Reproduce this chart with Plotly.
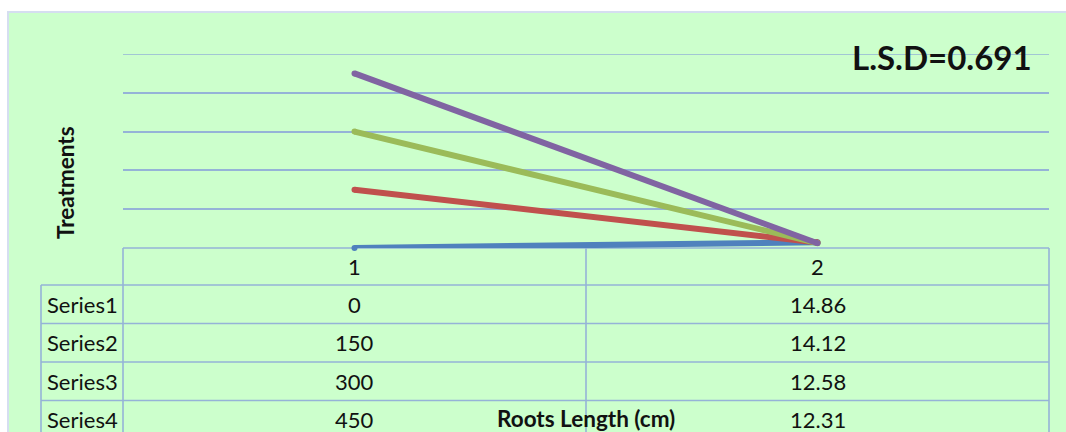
import plotly.graph_objects as go

# Data
categories = [1, 2]
series_names = ["Series1", "Series2", "Series3", "Series4"]
values_at_1 = [0, 150, 300, 450]
values_at_2 = [14.86, 14.12, 12.58, 12.31]
line_colors = ["#4F81BD", "#C0504D", "#9BBB59", "#8064A2"]
lsd_label = "L.S.D=0.691"
y_title = "Treatments"
x_title = "Roots Length (cm)"
y_max = 500

W, H = 1066, 432
L, R, T, B = 123, 17, 54, 184
PW, PH = W - L - R, H - T - B
GRID = "#95B3D7"
FONT = "Lato, Carlito, Calibri, sans-serif"


def xp(px):
    return (px - L) / PW


def yp(py):
    return (H - B - py) / PH


fig = go.Figure()

for name, a, b, c in zip(series_names, values_at_1, values_at_2, line_colors):
    fig.add_trace(go.Scatter(
        x=categories, y=[a, b], name=name, mode="lines+markers",
        line=dict(color=c, width=6),
        marker=dict(color=c, size=6),
        cliponaxis=False, showlegend=False,
    ))

shapes = []
# chart area background
shapes.append(dict(type="rect", xref="paper", yref="paper",
                   x0=xp(8), x1=xp(W + 5), y0=yp(12), y1=yp(H + 5),
                   fillcolor="#CCFFCC", line=dict(color="#D5DEF0", width=2),
                   layer="below"))
# top gridline at the axis maximum
shapes.append(dict(type="line", xref="paper", yref="y",
                   x0=0, x1=1, y0=y_max, y1=y_max,
                   line=dict(color=GRID, width=1.6), layer="below"))

# data table grid
row_top = H - B           # 248
hdr_bot = 285
row_h = 38.5
left_px = 41
n_rows = len(series_names)
row_lines = [hdr_bot + i * row_h for i in range(n_rows + 1)]
tw = 1.6
shapes.append(dict(type="line", xref="paper", yref="paper",
                   x0=0, x1=1, y0=yp(row_top), y1=yp(row_top),
                   line=dict(color=GRID, width=tw), layer="below"))
for ry in row_lines:
    shapes.append(dict(type="line", xref="paper", yref="paper",
                       x0=xp(left_px), x1=1, y0=yp(ry), y1=yp(ry),
                       line=dict(color=GRID, width=tw)))
for vx in [0, 0.5, 1]:
    shapes.append(dict(type="line", xref="paper", yref="paper",
                       x0=vx, x1=vx, y0=yp(row_top), y1=yp(H + 10),
                       line=dict(color=GRID, width=tw), layer="below"))
shapes.append(dict(type="line", xref="paper", yref="paper",
                   x0=xp(left_px), x1=xp(left_px), y0=yp(hdr_bot), y1=yp(H + 10),
                   line=dict(color=GRID, width=tw)))

annotations = []
tf = dict(family=FONT, size=22, color="#111111")
# header row: category labels
for cat in categories:
    annotations.append(dict(x=cat, xref="x", y=yp((row_top + hdr_bot) / 2), yref="paper",
                            text=str(cat), showarrow=False, font=tf,
                            xanchor="center", yanchor="middle"))
# body rows
for i, (name, a, b) in enumerate(zip(series_names, values_at_1, values_at_2)):
    cy = yp(hdr_bot + (i + 0.5) * row_h)
    annotations.append(dict(x=xp(45), xref="paper", y=cy, yref="paper",
                            text=name, showarrow=False, font=tf,
                            xanchor="left", yanchor="middle"))
    for cat, v in zip(categories, [a, b]):
        annotations.append(dict(x=cat, xref="x", y=cy, yref="paper",
                                text=f"{v:g}" if isinstance(v, int) else f"{v:.2f}",
                                showarrow=False, font=tf,
                                xanchor="center", yanchor="middle"))

# axis titles and LSD note
annotations.append(dict(x=0.5, xref="paper", y=yp(418), yref="paper",
                        text=f"<b>{x_title}</b>", showarrow=False,
                        font=dict(family=FONT, size=22.5, color="#111111"),
                        xanchor="center", yanchor="middle"))
annotations.append(dict(x=xp(65), xref="paper", y=yp(183), yref="paper",
                        text=f"<b>{y_title}</b>", showarrow=False, textangle=-90,
                        font=dict(family=FONT, size=22.5, color="#111111"),
                        xanchor="center", yanchor="middle"))
annotations.append(dict(x=xp(1034), xref="paper", y=yp(57), yref="paper",
                        text=f"<b>{lsd_label}</b>", showarrow=False,
                        font=dict(family=FONT, size=33, color="#111111"),
                        xanchor="right", yanchor="middle"))

fig.update_layout(
    width=W, height=H,
    margin=dict(l=L, r=R, t=T, b=B, pad=0),
    paper_bgcolor="white",
    plot_bgcolor="rgba(0,0,0,0)",
    shapes=shapes,
    annotations=annotations,
    xaxis=dict(range=[0.5, 2.5], showgrid=False, zeroline=False,
               showticklabels=False, ticks="", showline=False, fixedrange=True),
    yaxis=dict(range=[0, y_max], dtick=100, showgrid=True, gridcolor=GRID,
               gridwidth=1.6, zeroline=False, showticklabels=False, ticks="",
               showline=False, fixedrange=True),
)

fig.write_html("out.html")
